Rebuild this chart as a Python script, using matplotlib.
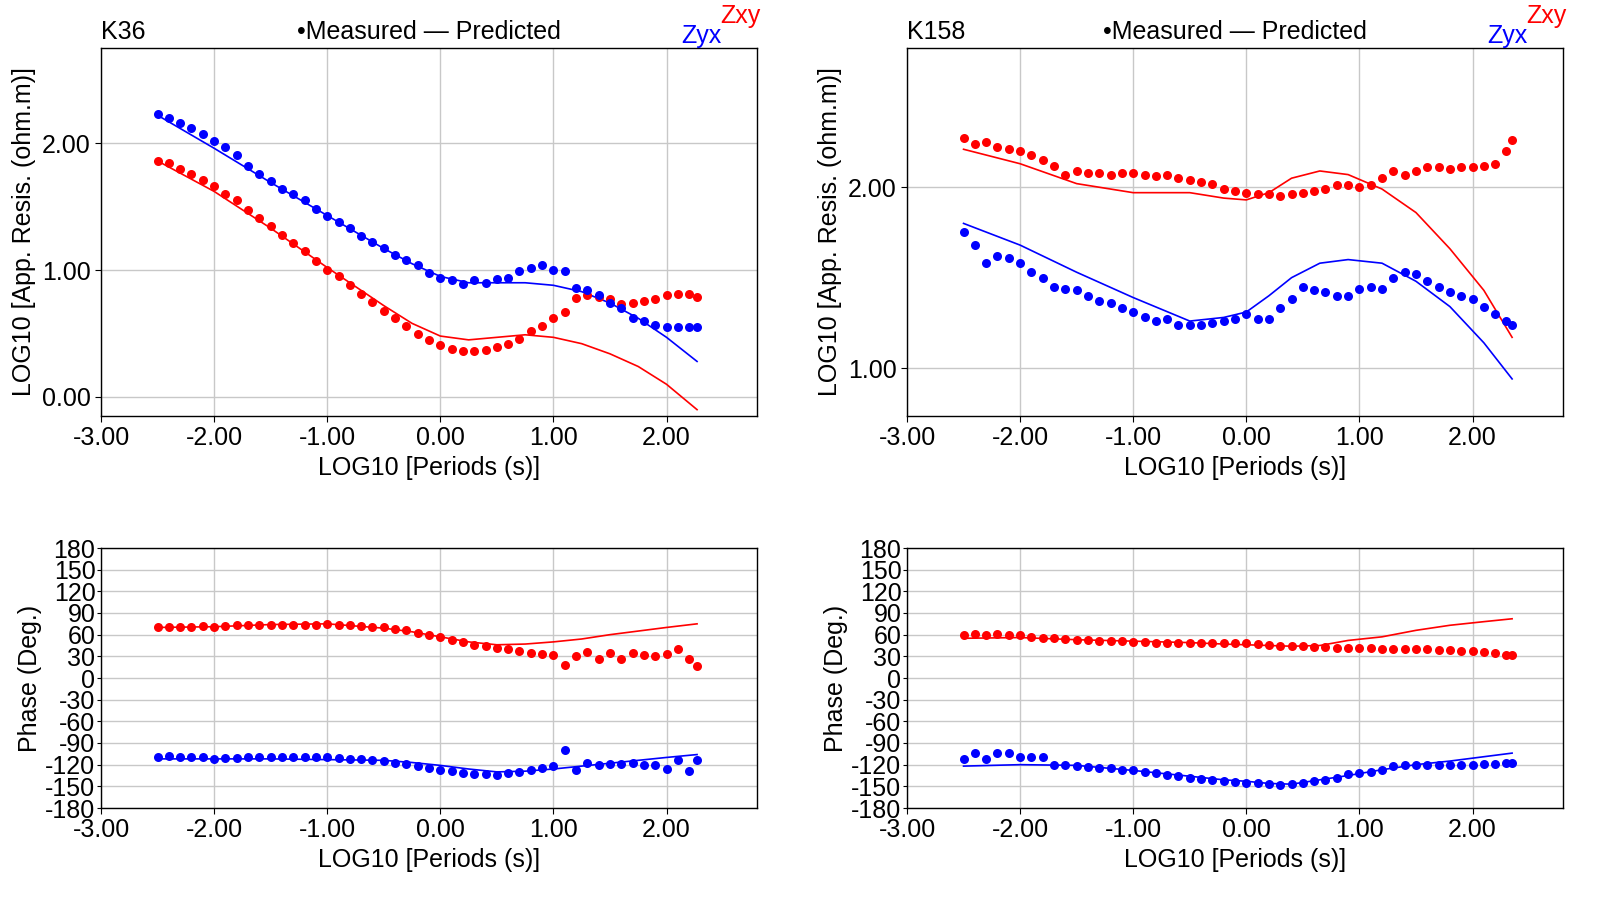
import matplotlib
matplotlib.use("Agg")
import matplotlib.pyplot as plt

plt.rcParams['font.family'] = ['Liberation Sans', 'DejaVu Sans']

X36 = [-2.5,-2.4,-2.3,-2.2,-2.1,-2.0,-1.9,-1.8,-1.7,-1.6,-1.5,-1.4,-1.3,-1.2,-1.1,-1.0,-0.9,-0.8,-0.7,-0.6,-0.5,-0.4,-0.3,-0.2,-0.1,
       0.0,0.1,0.2,0.3,0.4,0.5,0.6,0.7,0.8,0.9,1.0,1.1,1.2,1.3,1.4,1.5,1.6,1.7,1.8,1.9,2.0,2.1,2.2,2.27]
X158 = [-2.5,-2.4,-2.3,-2.2,-2.1,-2.0,-1.9,-1.8,-1.7,-1.6,-1.5,-1.4,-1.3,-1.2,-1.1,-1.0,-0.9,-0.8,-0.7,-0.6,-0.5,-0.4,-0.3,-0.2,-0.1,
        0.0,0.1,0.2,0.3,0.4,0.5,0.6,0.7,0.8,0.9,1.0,1.1,1.2,1.3,1.4,1.5,1.6,1.7,1.8,1.9,2.0,2.1,2.2,2.3,2.35]

k36_rho_xy = [1.86,1.84,1.80,1.76,1.71,1.66,1.60,1.55,1.47,1.41,1.35,1.28,1.21,1.15,1.07,1.00,0.95,0.88,0.81,0.75,0.68,0.62,0.56,0.50,0.45,
              0.41,0.38,0.36,0.36,0.37,0.39,0.42,0.46,0.52,0.56,0.62,0.67,0.78,0.80,0.79,0.77,0.73,0.74,0.76,0.77,0.80,0.81,0.81,0.79]
k36_rho_yx = [2.23,2.20,2.16,2.12,2.07,2.02,1.97,1.91,1.82,1.76,1.70,1.64,1.60,1.55,1.48,1.43,1.38,1.33,1.27,1.22,1.17,1.12,1.08,1.04,0.98,
              0.94,0.92,0.89,0.92,0.90,0.93,0.94,0.99,1.02,1.04,1.00,0.99,0.86,0.84,0.80,0.74,0.70,0.62,0.60,0.57,0.55,0.55,0.55,0.55]
k36_ph_xy = [70,71,71,71,72,71,72,73,73,74,74,74,74,74,74,75,74,73,72,71,70,68,66,63,60,
             57,53,50,46,44,42,40,37,35,33,32,18,30,36,27,34,27,35,32,31,33,40,27,16]
k36_ph_yx = [-109,-108,-109,-109,-110,-112,-111,-111,-110,-110,-109,-110,-110,-110,-110,-110,-111,-112,-112,-114,-115,-117,-119,-122,-125,
             -127,-129,-131,-133,-133,-134,-132,-130,-128,-125,-122,-100,-128,-118,-120,-119,-119,-118,-121,-121,-126,-113,-129,-114]

k158_rho_xy = [2.27,2.24,2.25,2.22,2.21,2.20,2.18,2.15,2.12,2.07,2.09,2.08,2.08,2.07,2.08,2.08,2.07,2.06,2.07,2.05,2.04,2.03,2.02,1.99,1.98,
               1.97,1.96,1.96,1.95,1.96,1.97,1.98,1.99,2.01,2.01,2.00,2.01,2.05,2.09,2.07,2.09,2.11,2.11,2.10,2.11,2.11,2.12,2.13,2.20,2.26]
k158_rho_yx = [1.75,1.68,1.58,1.62,1.61,1.58,1.53,1.50,1.45,1.44,1.43,1.40,1.37,1.36,1.33,1.31,1.28,1.26,1.27,1.24,1.24,1.24,1.25,1.26,1.27,
               1.30,1.27,1.27,1.33,1.38,1.45,1.43,1.42,1.40,1.40,1.44,1.45,1.44,1.50,1.53,1.52,1.48,1.45,1.42,1.40,1.38,1.34,1.30,1.26,1.24]
k158_ph_xy = [59,61,60,61,60,59,57,56,55,54,53,52,51,51,51,50,50,49,49,49,49,49,49,48,48,
              48,47,46,45,45,44,43,43,42,42,42,41,40,40,40,40,40,39,39,38,37,36,35,32,32]
k158_ph_yx = [-112,-104,-112,-104,-104,-109,-110,-110,-120,-121,-122,-123,-124,-125,-127,-128,-130,-132,-134,-136,-138,-140,-141,-143,-144,
              -145,-146,-147,-148,-147,-145,-143,-141,-138,-133,-132,-130,-128,-122,-121,-121,-121,-120,-121,-120,-120,-119,-119,-118,-117]

P36 = [-2.5,-2.0,-1.5,-1.0,-0.5,-0.25,0,0.25,0.5,0.75,1.0,1.25,1.5,1.75,2.0,2.27]
k36_rho_xy_pred = [1.86,1.62,1.33,1.02,0.72,0.58,0.48,0.45,0.47,0.49,0.47,0.42,0.34,0.24,0.10,-0.10]
k36_rho_yx_pred = [2.22,1.96,1.69,1.43,1.17,1.05,0.95,0.90,0.90,0.90,0.88,0.83,0.74,0.62,0.47,0.28]
k36_ph_xy_pred = [70,71,74,75,69,64,57,50,46,47,50,54,60,65,70,75]
k36_ph_yx_pred = [-112,-112,-112,-113,-114,-117,-121,-126,-130,-129,-126,-122,-118,-114,-110,-106]

P158 = [-2.5,-2.0,-1.5,-1.0,-0.5,-0.2,0,0.2,0.4,0.65,0.9,1.2,1.5,1.8,2.1,2.35]
k158_rho_xy_pred = [2.21,2.13,2.02,1.97,1.97,1.94,1.93,1.97,2.05,2.09,2.07,1.99,1.86,1.66,1.43,1.17]
k158_rho_yx_pred = [1.80,1.68,1.53,1.39,1.26,1.28,1.31,1.40,1.50,1.58,1.60,1.58,1.48,1.34,1.14,0.94]
k158_ph_xy_pred = [55,56,53,51,49,47,46,45,44,45,52,57,66,73,78,82]
k158_ph_yx_pred = [-122,-120,-121,-128,-136,-141,-143,-146,-147,-141,-135,-127,-120,-115,-109,-104]

RED = '#ff0000'
BLUE = '#0000ff'
FS = 18

fig = plt.figure(figsize=(15.98, 9.08), dpi=100)
W = 656/1598
lefts = [101/1598, 907/1598]
top_b, top_h = (908-416)/908, 368/908
bot_b, bot_h = (908-808)/908, 260/908

sites = [
    ("K36", X36, k36_rho_xy, k36_rho_yx, k36_ph_xy, k36_ph_yx, P36, k36_rho_xy_pred, k36_rho_yx_pred,
     k36_ph_xy_pred, k36_ph_yx_pred, (-0.15, 2.75), [0.0, 1.0, 2.0]),
    ("K158", X158, k158_rho_xy, k158_rho_yx, k158_ph_xy, k158_ph_yx, P158, k158_rho_xy_pred, k158_rho_yx_pred,
     k158_ph_xy_pred, k158_ph_yx_pred, (0.735, 2.77), [1.0, 2.0]),
]

def style(ax):
    ax.set_xlim(-3.0, 2.8)
    ax.set_xticks([-3, -2, -1, 0, 1, 2])
    ax.set_xticklabels(["%.2f" % v for v in [-3, -2, -1, 0, 1, 2]])
    ax.grid(True, color='#c8c8c8', linewidth=1.0)
    ax.set_axisbelow(True)
    ax.tick_params(labelsize=FS, length=4, direction='out')
    for s in ax.spines.values():
        s.set_linewidth(1.0)
    ax.set_xlabel("LOG10 [Periods (s)]", fontsize=FS)

for i, (name, X, rxy, ryx, pxy, pyx, P, rxyp, ryxp, pxyp, pyxp, ylim, yt) in enumerate(sites):
    ax = fig.add_axes([lefts[i], top_b, W, top_h])
    style(ax)
    ax.plot(P, rxyp, color=RED, lw=1.2)
    ax.plot(P, ryxp, color=BLUE, lw=1.2)
    ax.plot(X, rxy, 'o', color=RED, ms=6.5, mec='none')
    ax.plot(X, ryx, 'o', color=BLUE, ms=6.5, mec='none')
    ax.set_ylim(*ylim)
    ax.set_yticks(yt)
    ax.set_yticklabels(["%.2f" % v for v in yt])
    ax.set_ylabel("LOG10 [App. Resis. (ohm.m)]", fontsize=FS)
    ax.text(0.0, 1.01, name, transform=ax.transAxes, fontsize=FS, ha='left', va='bottom')
    ax.text(0.5, 1.01, "•Measured — Predicted", transform=ax.transAxes, fontsize=FS, ha='center', va='bottom')
    ax.text(0.915, 1.0, "Zyx", transform=ax.transAxes, fontsize=FS, ha='center', va='bottom', color=BLUE)
    ax.text(0.975, 1.055, "Zxy", transform=ax.transAxes, fontsize=FS, ha='center', va='bottom', color=RED)

    bx = fig.add_axes([lefts[i], bot_b, W, bot_h])
    style(bx)
    bx.plot(P, pxyp, color=RED, lw=1.2)
    bx.plot(P, pyxp, color=BLUE, lw=1.2)
    bx.plot(X, pxy, 'o', color=RED, ms=6.5, mec='none')
    bx.plot(X, pyx, 'o', color=BLUE, ms=6.5, mec='none')
    bx.set_ylim(-180, 180)
    ticks = list(range(-180, 181, 30))
    bx.set_yticks(ticks)
    bx.set_yticklabels([str(t) for t in ticks])
    bx.tick_params(axis='y', pad=1, length=3)
    bx.set_ylabel("Phase (Deg.)", fontsize=FS, labelpad=2)

fig.savefig("out.png", dpi=100)
